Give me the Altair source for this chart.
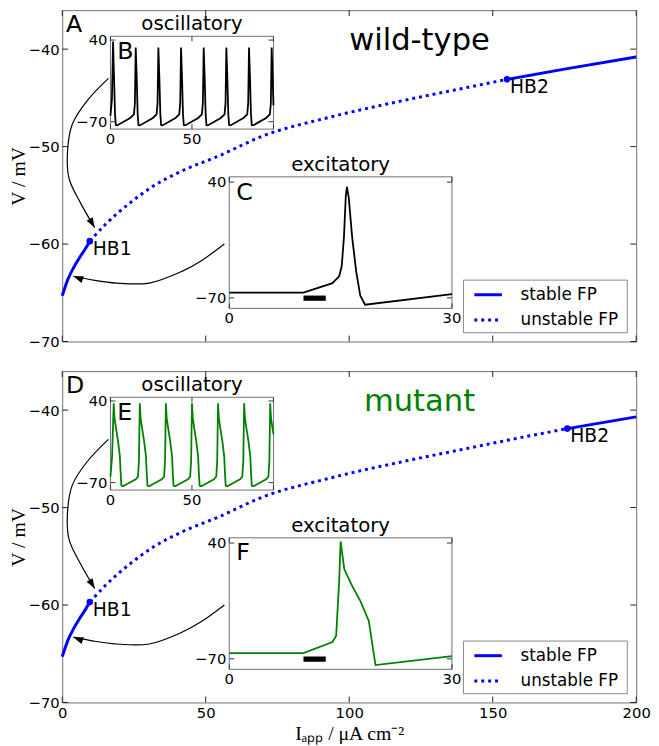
import altair as alt
import pandas as pd

# ---------------- values ----------------
# fixed-point branch V*(I_app)
wt_I = [0, 2, 4, 6, 8, 9.6, 15, 23.5, 32, 41.7, 54.2, 70, 93, 120, 140, 155, 176, 200]
wt_V = [-65.3, -63.6, -62.4, -61.4, -60.5, -59.7, -58.0, -55.8, -54.0, -52.5, -51.0, -48.9, -47.0, -45.2, -44.0, -43.1, -42.0, -40.8]
wt_hb_I = [9.6, 155]
wt_hb_V = [-59.7, -43.1]

mut_I = [0, 2, 4, 6, 8, 9.6, 15, 23.5, 32, 41.7, 54.2, 70, 93, 120, 140, 155, 176, 200]
mut_V = [-65.3, -63.6, -62.4, -61.4, -60.5, -59.7, -58.0, -55.8, -54.0, -52.5, -51.0, -48.9, -47.0, -45.2, -44.0, -43.1, -41.9, -40.7]
mut_hb_I = [9.6, 176]
mut_hb_V = [-59.7, -41.9]

hb_names = ["HB1", "HB2"]

# oscillatory insets (t in ms, V in mV)
wt_osc_t = [0, 0.9, 1.6, 2.2, 2.8, 3.3, 4.1, 12.1,
            14.4, 15.0, 15.5, 16.1, 16.7, 17.2, 18.0, 26.0,
            28.3, 28.9, 29.4, 30.0, 30.6, 31.1, 31.9, 39.9,
            42.2, 42.8, 43.3, 43.9, 44.5, 45.0, 45.8, 53.8,
            56.1, 56.7, 57.2, 57.8, 58.4, 58.9, 59.7, 67.7,
            70.0, 70.6, 71.1, 71.7, 72.3, 72.8, 73.6, 81.6,
            83.9, 84.5, 85.0, 85.6, 86.2, 86.7, 87.5, 95.5,
            97.8, 98.4, 98.9, 99.5, 100]
wt_osc_V = [-62, -40, 38, -10, -60, -74.5, -75, -65,
            -60, -45, 30, -10, -60, -74.5, -75, -65,
            -60, -45, 30, -10, -60, -74.5, -75, -65,
            -60, -45, 30, -10, -60, -74.5, -75, -65,
            -60, -45, 30, -10, -60, -74.5, -75, -65,
            -60, -45, 30, -10, -60, -74.5, -75, -65,
            -60, -45, 30, -10, -60, -74.5, -75, -65,
            -60, -45, 30, -10, -48]

mut_osc_t = [0, 1.0, 2, 2.5, 3.5, 4.7, 5.8, 6.2, 6.7, 7.7, 15.5,
             16.9, 17.5, 18, 18.5, 19.5, 20.7, 21.8, 22.2, 22.7, 23.7, 31.5,
             32.9, 33.5, 34, 34.5, 35.5, 36.7, 37.8, 38.2, 38.7, 39.7, 47.5,
             48.9, 49.5, 50, 50.5, 51.5, 52.7, 53.8, 54.2, 54.7, 55.7, 63.5,
             64.9, 65.5, 66, 66.5, 67.5, 68.7, 69.8, 70.2, 70.7, 71.7, 79.5,
             80.9, 81.5, 82, 82.5, 83.5, 84.7, 85.8, 86.2, 86.7, 87.7, 95.5,
             96.9, 97.5, 98, 98.5, 99.5, 100]
mut_osc_V = [-62, -35, 37, 17, 2, -15, -35, -55, -74, -75, -65.5,
             -62, -40, 37, 17, 2, -15, -35, -55, -74, -75, -65.5,
             -62, -40, 37, 17, 2, -15, -35, -55, -74, -75, -65.5,
             -62, -40, 37, 17, 2, -15, -35, -55, -74, -75, -65.5,
             -62, -40, 37, 17, 2, -15, -35, -55, -74, -75, -65.5,
             -62, -40, 37, 17, 2, -15, -35, -55, -74, -75, -65.5,
             -62, -40, 37, 17, 2, -5]

# excitatory insets
wt_exc_t = [0, 10.0, 13.9, 14.8, 15.15, 15.45, 15.7, 15.85, 16.1, 16.55, 17.1, 17.65, 18.3, 30]
wt_exc_V = [-65, -65, -56, -49.5, -40, -12, 27, 35.5, 25, -12, -45, -68, -76.5, -66.5]
mut_exc_t = [0, 10.0, 13.9, 14.4, 14.8, 15.0, 15.5, 16.5, 17.7, 18.8, 19.2, 19.7, 30]
mut_exc_V = [-64.5, -64.5, -54, -48, 3, 41.5, 15, 0, -15.6, -34, -53, -75.9, -67.5]
stim_t = [10, 13]
stim_V = [-67.8, -72.8]

# ticks
x_ticks = [0, 50, 100, 150, 200]
y_ticks = [-70, -60, -50, -40]
osc_x_ticks = [0, 50, 100]
osc_x_labels = [0, 50]
exc_x_ticks = [0, 30]
exc_x_labels = [0, 30]
inset_y_ticks = [-70, 40]

# annotation arrows (main-axis coordinates)
arrow_osc_I = [16.1, 8.65, 3.5, 1.8, 2.4, 6.4, 11.3]
arrow_osc_V = [-43.0, -45.3, -47.7, -50.7, -53.3, -55.8, -58.3]
arrow_exc_I = [56.5, 48.5, 41.7, 30.3, 18.9, 10.9, 3.9]
arrow_exc_V = [-60.0, -61.7, -62.8, -64.0, -64.0, -63.7, -63.3]
arrow_angles = [149, 290]

# ---------------- layout / style ----------------
W, H = 582, 336
X_DOM = [0, 200]
Y_DOM = [-70, -36]
INSET_Y_DOM = [-80, 45]
OSC_BOX = (0.084, 0.368, 0.079, 0.359)   # x0, x1, top, bottom as plot fractions
EXC_BOX = (0.291, 0.679, 0.503, 0.900)
BLUE = "#0000ff"
GREEN = "#008000"
FRAME = "#707070"
FONT = "DejaVu Sans"
SERIF = "Liberation Serif"
ARROW = "M0,0L-0.36,1L0.36,1Z"
MINUS = "\u2212"


def fmt(v):
    return (MINUS + str(abs(v))) if v < 0 else str(v)


def tick_df(xdom, ydom, xt, yt, pxx, pxy, L):
    dx, dy = L / pxx, L / pxy
    rows = []
    for t in xt:
        rows.append(dict(x=t, x2=t, y=ydom[0], y2=ydom[0] + dy))
        rows.append(dict(x=t, x2=t, y=ydom[1], y2=ydom[1] - dy))
    for t in yt:
        rows.append(dict(x=xdom[0], x2=xdom[0] + dx, y=t, y2=t))
        rows.append(dict(x=xdom[1], x2=xdom[1] - dx, y=t, y2=t))
    return pd.DataFrame(rows)


def inset(t, v, color, box, xdom, xt, xl, title, letter, stim):
    x0, x1, y0, y1 = box
    xs = alt.Scale(domain=xdom, range=[x0 * W, x1 * W], nice=False, zero=False)
    ys = alt.Scale(domain=INSET_Y_DOM, range=[y1 * H, y0 * H], nice=False, zero=False)

    def X(f):
        return alt.X(f, type="quantitative", scale=xs, axis=None)

    def Y(f):
        return alt.Y(f, type="quantitative", scale=ys, axis=None)

    frame = alt.Chart(pd.DataFrame({"x": [xdom[0]], "x2": [xdom[1]], "y": [INSET_Y_DOM[0]], "y2": [INSET_Y_DOM[1]]})).mark_rect(
        fill="white", stroke=FRAME, strokeWidth=1).encode(X("x"), alt.X2("x2"), Y("y"), alt.Y2("y2"))
    tr = pd.DataFrame({"t": t, "V": v, "k": list(range(len(t)))})
    trace = alt.Chart(tr).mark_line(color=color, strokeWidth=1.8).encode(X("t"), Y("V"), order="k:Q")
    pxx = (x1 - x0) * W / (xdom[1] - xdom[0])
    pxy = (y1 - y0) * H / (INSET_Y_DOM[1] - INSET_Y_DOM[0])
    tk = alt.Chart(tick_df(xdom, INSET_Y_DOM, xt, inset_y_ticks, pxx, pxy, 5)).mark_rule(
        color="#333", strokeWidth=1).encode(X("x"), alt.X2("x2"), Y("y"), alt.Y2("y2"))
    ylab = alt.Chart(pd.DataFrame({"x": [xdom[0]] * 2, "y": inset_y_ticks, "s": [fmt(a) for a in inset_y_ticks]})).mark_text(
        align="right", baseline="middle", dx=-3, fontSize=15, font=FONT, color="black").encode(X("x"), Y("y"), text="s:N")
    xlab = alt.Chart(pd.DataFrame({"x": xl, "y": [INSET_Y_DOM[0]] * len(xl), "s": [fmt(a) for a in xl]})).mark_text(
        align="center", baseline="top", dy=3, fontSize=15, font=FONT, color="black").encode(X("x"), Y("y"), text="s:N")
    ttl = alt.Chart(pd.DataFrame({"x": [(xdom[0] + xdom[1]) / 2], "y": [INSET_Y_DOM[1]], "s": [title]})).mark_text(
        align="center", baseline="bottom", dy=-2, fontSize=20, font=FONT, color="black").encode(X("x"), Y("y"), text="s:N")
    let = alt.Chart(pd.DataFrame({"x": [xdom[0]], "y": [INSET_Y_DOM[1]], "s": [letter]})).mark_text(
        align="left", baseline="top", dx=7, dy=4, fontSize=24, font=FONT, color="black").encode(X("x"), Y("y"), text="s:N")
    layers = [frame, trace]
    if stim:
        layers.append(alt.Chart(pd.DataFrame({"x": [stim_t[0]], "x2": [stim_t[1]], "y": [stim_V[0]], "y2": [stim_V[1]]})).mark_rect(
            fill="black").encode(X("x"), alt.X2("x2"), Y("y"), alt.Y2("y2")))
    layers += [tk, ylab, xlab, ttl, let]
    return alt.layer(*layers)


def panel(cI, cV, hbI, hbV, osc_t, osc_V, exc_t, exc_V, tcolor, title, tcol, letters, show_x):
    xs = alt.Scale(domain=X_DOM, nice=False, zero=False)
    ys = alt.Scale(domain=Y_DOM, nice=False, zero=False)
    if show_x:
        x_axis = alt.Axis(title="I\u2090\u209a\u209a / \u03bcA cm\u207b\u00b2", values=x_ticks, ticks=False, domain=False, grid=False,
                          labelFlush=False, labelPadding=3, labelFontSize=15, labelFont=FONT, labelColor="black",
                          titleFont=SERIF, titleFontSize=20, titleFontWeight="normal", titleColor="black", titlePadding=4)
    else:
        x_axis = None
    y_axis = alt.Axis(title="V / mV", values=y_ticks, ticks=False, domain=False, grid=False, labelFlush=False,
                      labelPadding=3, labelFontSize=15, labelFont=FONT, labelColor="black", format="d",
                      titleFont=SERIF, titleFontSize=20, titleFontWeight="normal", titleColor="black", titlePadding=0)

    def X(f):
        return alt.X(f, type="quantitative", scale=xs, axis=x_axis)

    def Y(f):
        return alt.Y(f, type="quantitative", scale=ys, axis=y_axis)

    cdf = pd.DataFrame({"I": cI, "V": cV})
    stable = pd.concat([cdf[cdf.I <= hbI[0]].assign(seg="lo"), cdf[cdf.I >= hbI[1]].assign(seg="hi")])
    mid = cdf[(cdf.I >= hbI[0]) & (cdf.I <= hbI[1])]
    st = alt.Chart(stable).mark_line(color=BLUE, strokeWidth=3, interpolate="monotone").encode(X("I"), Y("V"), detail="seg:N")
    un = alt.Chart(mid).mark_line(color=BLUE, strokeWidth=3, strokeDash=[3, 4], interpolate="monotone").encode(X("I"), Y("V"))
    hb = pd.DataFrame({"I": hbI, "V": hbV, "s": hb_names})
    hbp = alt.Chart(hb).mark_circle(size=45, color=BLUE, opacity=1).encode(X("I"), Y("V"))
    hbt = alt.Chart(hb).mark_text(align="left", baseline="top", dx=3, dy=-1, fontSize=19, font=FONT, color="black").encode(
        X("I"), Y("V"), text="s:N")

    a1 = pd.DataFrame({"I": arrow_osc_I, "V": arrow_osc_V, "k": list(range(len(arrow_osc_I))), "g": "a"})
    a2 = pd.DataFrame({"I": arrow_exc_I, "V": arrow_exc_V, "k": list(range(len(arrow_exc_I))), "g": "b"})
    arr = alt.Chart(pd.concat([a1, a2])).mark_line(color="black", strokeWidth=1.2, interpolate="catmull-rom").encode(
        X("I"), Y("V"), order="k:Q", detail="g:N")
    heads = pd.DataFrame({"I": [arrow_osc_I[-1], arrow_exc_I[-1]], "V": [arrow_osc_V[-1], arrow_exc_V[-1]], "a": arrow_angles})
    hd = alt.Chart(heads).mark_point(shape=ARROW, filled=True, color="black", size=400, opacity=1, strokeWidth=0).encode(
        X("I"), Y("V"), angle=alt.Angle("a:Q", scale=None))

    box = alt.Chart(pd.DataFrame({"I": [139.8], "I2": [196.9], "V": [-63.7], "V2": [-69.1]})).mark_rect(
        fill="white", stroke="#888", strokeWidth=1).encode(X("I"), alt.X2("I2"), Y("V"), alt.Y2("V2"))
    l1 = alt.Chart(pd.DataFrame({"I": [143.6], "I2": [153.2], "V": [-65.2]})).mark_rule(color=BLUE, strokeWidth=3).encode(
        X("I"), alt.X2("I2"), Y("V"))
    l2 = alt.Chart(pd.DataFrame({"I": [143.6], "I2": [153.2], "V": [-67.8]})).mark_rule(
        color=BLUE, strokeWidth=3, strokeDash=[3, 4]).encode(X("I"), alt.X2("I2"), Y("V"))
    lt = alt.Chart(pd.DataFrame({"I": [159.7, 159.7], "V": [-65.2, -67.8], "s": ["stable FP", "unstable FP"]})).mark_text(
        align="left", baseline="middle", fontSize=17, font=FONT, color="black").encode(X("I"), Y("V"), text="s:N")

    letter = alt.Chart(pd.DataFrame({"I": [1.3], "V": [-36], "s": [letters[0]]})).mark_text(
        align="left", baseline="top", dy=3, fontSize=24, font=FONT, color="black").encode(X("I"), Y("V"), text="s:N")
    ttl = alt.Chart(pd.DataFrame({"I": [124.5], "V": [-39.2], "s": [title]})).mark_text(
        align="center", baseline="middle", fontSize=31, font=FONT, color=tcol).encode(X("I"), Y("V"), text="s:N")
    tk = alt.Chart(tick_df(X_DOM, Y_DOM, x_ticks, y_ticks, W / 200, H / 34, 6)).mark_rule(
        color="#222", strokeWidth=1).encode(X("x"), alt.X2("x2"), Y("y"), alt.Y2("y2"))

    main = alt.layer(st, un, arr, hd, hbp, hbt, box, l1, l2, lt, letter, ttl, tk)
    ins1 = inset(osc_t, osc_V, tcolor, OSC_BOX, [0, 100], osc_x_ticks, osc_x_labels, "oscillatory", letters[1], False)
    ins2 = inset(exc_t, exc_V, tcolor, EXC_BOX, [0, 30], exc_x_ticks, exc_x_labels, "excitatory", letters[2], True)
    return alt.layer(main, ins1, ins2).resolve_scale(x="independent", y="independent").properties(width=W, height=H)


top = panel(wt_I, wt_V, wt_hb_I, wt_hb_V, wt_osc_t, wt_osc_V, wt_exc_t, wt_exc_V, "black", "wild-type", "black", "ABC", False)
bottom = panel(mut_I, mut_V, mut_hb_I, mut_hb_V, mut_osc_t, mut_osc_V, mut_exc_t, mut_exc_V, GREEN, "mutant", GREEN, "DEF", True)

chart = alt.vconcat(top, bottom, spacing=20).properties(
    padding={"left": -1, "top": -4, "right": 0, "bottom": 0}
).configure_view(stroke=FRAME, strokeWidth=1)

chart.save("out.html", embed_options={"renderer": "svg", "actions": False})
